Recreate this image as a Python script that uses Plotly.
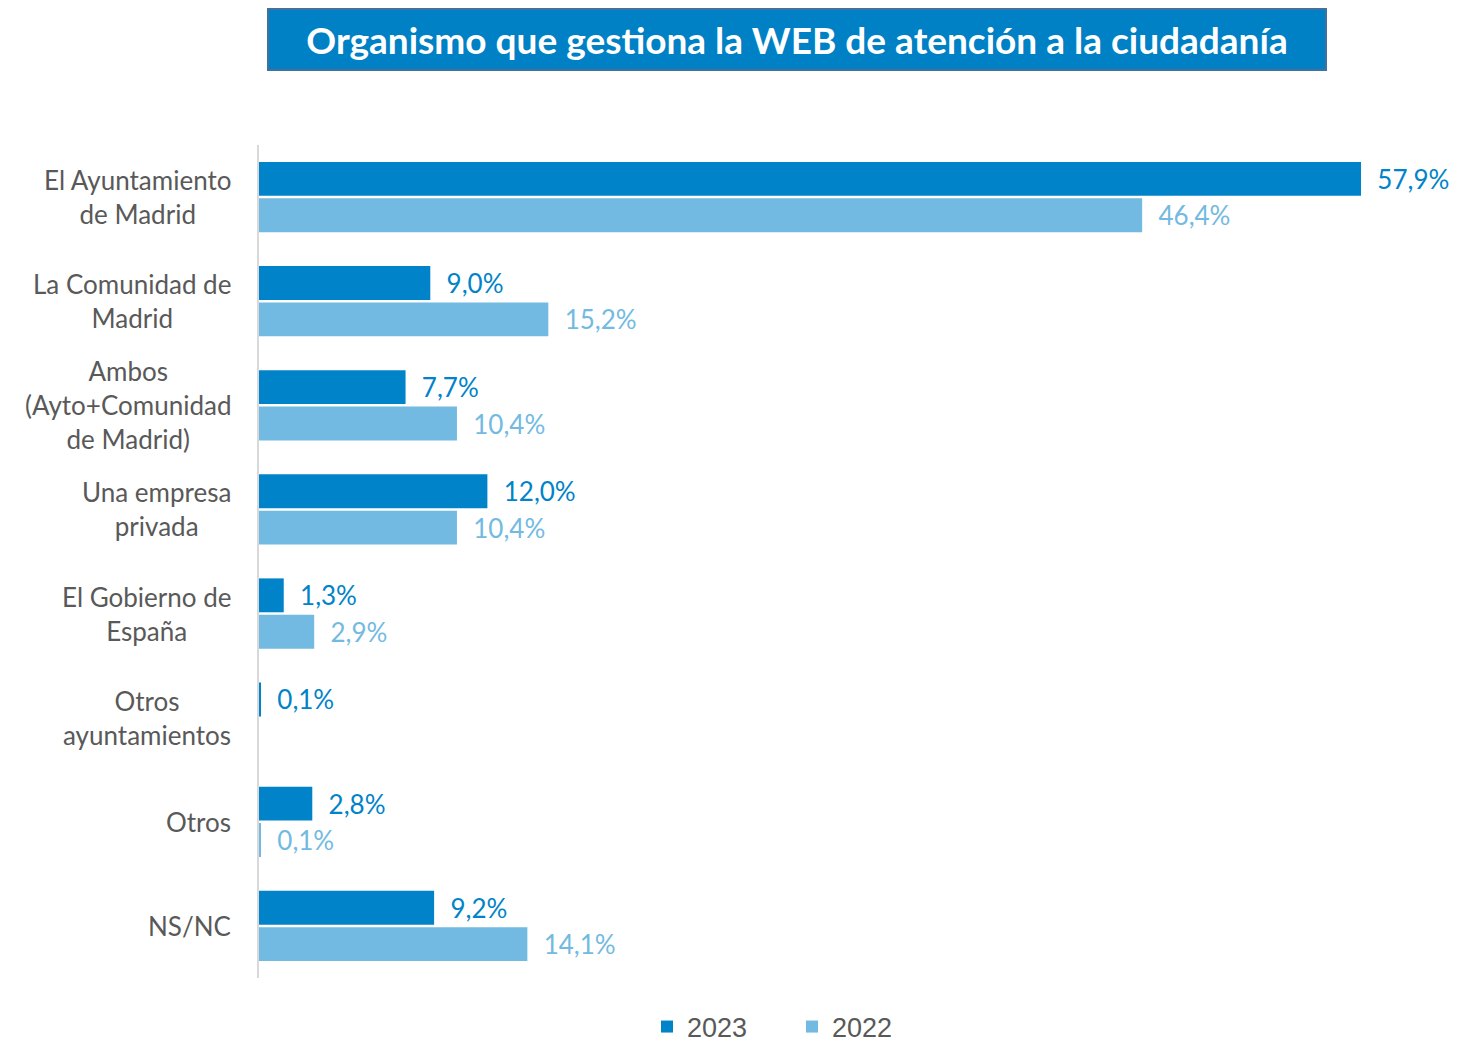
import plotly.graph_objects as go

categories = [
    "El Ayuntamiento<br>de Madrid",
    "La Comunidad de<br>Madrid",
    "Ambos<br>(Ayto+Comunidad<br>de Madrid)",
    "Una empresa<br>privada",
    "El Gobierno de<br>España",
    "Otros<br>ayuntamientos",
    "Otros",
    "NS/NC",
]
values_2023 = [57.9, 9.0, 7.7, 12.0, 1.3, 0.1, 2.8, 9.2]
values_2022 = [46.4, 15.2, 10.4, 10.4, 2.9, None, 0.1, 14.1]
series_names = ["2023", "2022"]
title_text = "Organismo que gestiona la WEB de atención a la ciudadanía"

C23 = "#0083C8"
C22 = "#72BAE1"
GREY = "#595959"
PAD = "\u00a0\u00a0"

W, H = 1442, 1035
L, R, T, B = 251, 49, 137, 65
PW, PH = W - L - R, H - T - B


def fmt(v):
    if v is None:
        return ""
    return PAD + f"{v:.1f}".replace(".", ",") + "%"


fig = go.Figure()
for name, vals, col in [(series_names[0], values_2023, C23), (series_names[1], values_2022, C22)]:
    fig.add_trace(go.Bar(
        y=categories, x=vals, orientation="h", name=name,
        marker=dict(color=col, line=dict(width=0)),
        text=[fmt(v) for v in vals], textposition="outside",
        textfont=dict(family="Lato", size=26, color=col),
        cliponaxis=False, hoverinfo="skip",
    ))

for cat in categories:
    fig.add_annotation(
        x=0, y=cat, xref="x", yref="y", text=cat, showarrow=False,
        xanchor="right", yanchor="middle", align="center", xshift=-26,
        font=dict(family="Lato", size=26, color=GREY),
    )

fig.add_annotation(
    x=(789 - L) / PW, y=(T + PH - 31.5) / PH, xref="paper", yref="paper",
    text="<b>" + title_text + "</b>", showarrow=False,
    xanchor="center", yanchor="middle", width=1054, height=57,
    bgcolor="#0081C6", bordercolor="#41719C", borderwidth=2,
    font=dict(family="Lato", size=37, color="white"),
)

fig.update_layout(
    width=W, height=H,
    margin=dict(l=L, r=R, t=T, b=B),
    paper_bgcolor="white", plot_bgcolor="white",
    barmode="group", bargap=0.3, bargroupgap=0.07,
    separators=",.",
    showlegend=True,
    legend=dict(orientation="h", xref="paper", x=(784 - L) / PW, xanchor="center",
                yref="container", y=(H - 1019) / H, yanchor="middle",
                font=dict(family="Liberation Sans", size=27, color=GREY),
                itemwidth=30, traceorder="normal", entrywidth=100),
    xaxis=dict(range=[0, 60], showgrid=False, zeroline=False, showticklabels=False,
               showline=False, ticks="", fixedrange=True),
    yaxis=dict(autorange="reversed", showticklabels=False, ticks="", showgrid=False,
               showline=True, linecolor="#D9D9D9", linewidth=2, zeroline=False),
)

fig.write_html("out.html")
